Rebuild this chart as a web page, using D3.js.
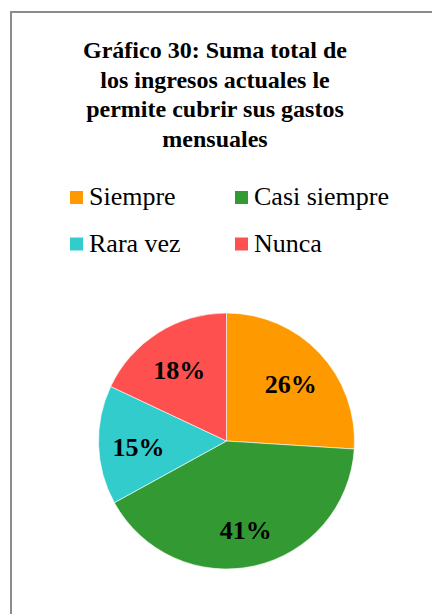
<!DOCTYPE html>
<html>
<head>
<meta charset="utf-8">
<script src="https://cdn.jsdelivr.net/npm/d3@7"></script>
<style>
  html, body { margin: 0; padding: 0; background: #fff; }
  svg text, svg tspan { font-family: "Liberation Serif", "DejaVu Serif", serif; }
</style>
</head>
<body>
<div id="chart"></div>
<script>
// datos del gráfico
var categorias = ["Siempre", "Casi siempre", "Rara vez", "Nunca"];
var valores = [26, 41, 15, 18];
var colores = ["#FF9900", "#339933", "#33CCCC", "#FF5050"];
var titulo = ["Gráfico 30: Suma total de", "los ingresos actuales le", "permite cubrir sus gastos", "mensuales"];

var width = 432, height = 614;
var svg = d3.select("#chart").append("svg")
    .attr("width", width)
    .attr("height", height);

// marco del área del gráfico
svg.append("rect")
    .attr("x", 11).attr("y", 12)
    .attr("width", 440).attr("height", 620)
    .attr("fill", "none")
    .attr("stroke", "#8c8c8c")
    .attr("stroke-width", 2);

// título
svg.append("text")
    .attr("text-anchor", "middle")
    .attr("font-family", "Liberation Serif, serif")
    .attr("font-weight", "bold")
    .attr("font-size", 24)
    .selectAll("tspan")
    .data(titulo)
    .enter().append("tspan")
    .attr("x", 215)
    .attr("y", function (d, i) { return 58 + i * 29.5; })
    .text(function (d) { return d; });

// leyenda
var color = d3.scaleOrdinal().domain(categorias).range(colores);
var legX = [70, 235], legY = [205, 251.5];
var leg = svg.selectAll(".leg")
    .data(categorias)
    .enter().append("g")
    .attr("class", "leg")
    .attr("transform", function (d, i) {
        return "translate(" + legX[i % 2] + "," + legY[Math.floor(i / 2)] + ")";
    });
leg.append("rect")
    .attr("x", 0).attr("y", -14)
    .attr("width", 13).attr("height", 13)
    .attr("fill", function (d) { return color(d); });
leg.append("text")
    .attr("x", 19)
    .attr("font-size", 26)
    .attr("fill", "#000")
    .text(function (d) { return d; });

// pastel
var cx = 226.5, cy = 441, r = 128;
var pie = d3.pie().sort(null).value(function (d) { return d.v; });
var datos = categorias.map(function (c, i) { return { c: c, v: valores[i] }; });
var arc = d3.arc().innerRadius(0).outerRadius(r);
var arcLabel = d3.arc().innerRadius(88).outerRadius(88);

var g = svg.append("g").attr("transform", "translate(" + cx + "," + cy + ")");
var arcs = pie(datos);
g.selectAll("path")
    .data(arcs)
    .enter().append("path")
    .attr("d", arc)
    .attr("fill", function (d) { return color(d.data.c); })
    .attr("stroke", "#fff")
    .attr("stroke-width", 0.6);

var total = d3.sum(valores);
g.selectAll(".lbl")
    .data(arcs)
    .enter().append("text")
    .attr("class", "lbl")
    .attr("transform", function (d) {
        var c = arcLabel.centroid(d);
        return "translate(" + c[0] + "," + (c[1] + 3) + ")";
    })
    .attr("text-anchor", "middle")
    .attr("dy", "0.35em")
    .attr("font-weight", "bold")
    .attr("font-size", 26)
    .text(function (d) { return Math.round(d.data.v / total * 100) + "%"; });
</script>
</body>
</html>
